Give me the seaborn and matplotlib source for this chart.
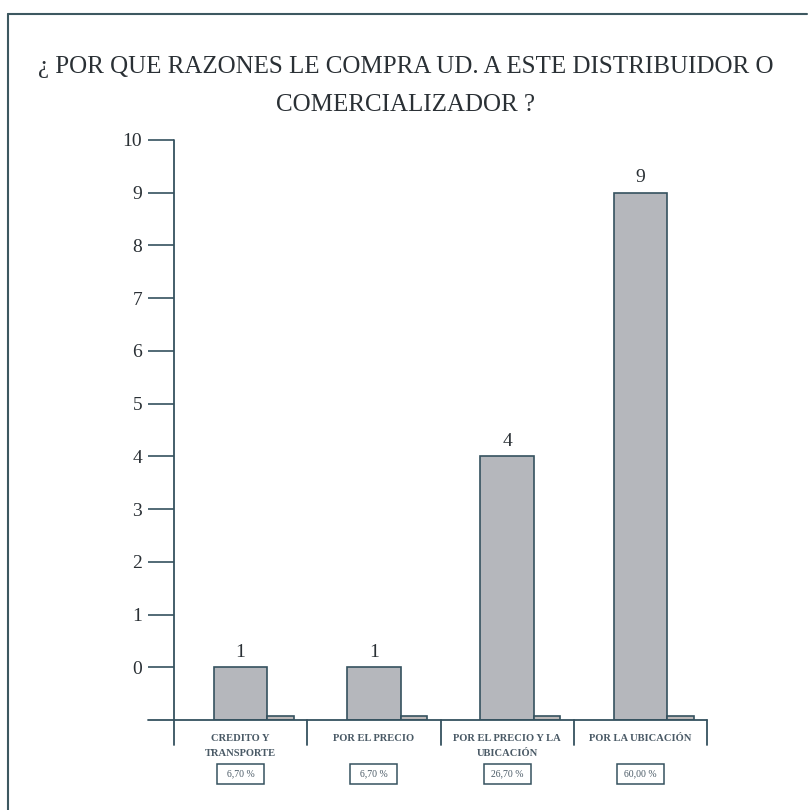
import numpy as np
import pandas as pd
import matplotlib
matplotlib.use("Agg")
import matplotlib.pyplot as plt
from matplotlib.lines import Line2D
from matplotlib.patches import Rectangle
import seaborn as sns

# datos
categorias = ["CREDITO Y\nTRANSPORTE", "POR EL PRECIO", "POR EL PRECIO Y LA\nUBICACIÓN", "POR LA UBICACIÓN"]
tope_barra = [0, 0, 4, 9]          # altura de la barra segun el eje
etiqueta_barra = ["1", "1", "4", "9"]
serie_b = [0.08, 0.08, 0.08, 0.08]  # barrita pequeña al lado
porcentajes = ["6,70 %", "6,70 %", "26,70 %", "60,00 %"]
y_ticks = list(range(0, 11))
base = -1

titulo = "¿ POR QUE RAZONES LE COMPRA UD. A ESTE DISTRIBUIDOR O\nCOMERCIALIZADOR ?"

sns.set_theme(style="white")
plt.rcParams['font.family'] = ['Liberation Serif', 'DejaVu Serif']

linea = '#35525f'
gris = '#b5b7bc'
texto = '#2a3035'
texto_cat = '#4a5a66'

df = pd.DataFrame({"cat": categorias, "alto": np.array(tope_barra) - base})

fig = plt.figure(figsize=(8.11, 8.10), dpi=100)
ax = fig.add_axes([174/811, 1 - 720/810, 533/811, 580/810])

sns.barplot(data=df, x="cat", y="alto", color=gris, saturation=1, width=0.4,
            edgecolor=linea, linewidth=1.2, ax=ax, bottom=base)

# serie pequeña a la derecha de cada barra
xpos = np.arange(len(categorias))
ax.bar(xpos + 0.3, serie_b, width=0.2, bottom=base, color='#bdb8b8',
       edgecolor=linea, linewidth=1.2)

ax.set_xlim(-0.5, 3.5)
ax.set_ylim(base, 10)
ax.set_yticks(y_ticks)
ax.set_yticklabels([str(t) for t in y_ticks], fontsize=14, color=texto)
ax.tick_params(axis='y', length=19, width=1.2, color=linea, pad=4, left=True)
ax.set_xticks([])
ax.set_xlabel("")
ax.set_ylabel("")
for s in ["top", "right", "bottom", "left"]:
    ax.spines[s].set_visible(False)

# ejes dibujados a mano como en el original
ax.axhline(base, xmin=-26/533, xmax=1, color=linea, lw=1.3, clip_on=False)
ax.axvline(-0.5, ymin=-25/580, ymax=1, color=linea, lw=1.3, clip_on=False)
for xd in [0.5, 1.5, 2.5, 3.5]:
    ax.axvline(xd, ymin=-25/580, ymax=0, color=linea, lw=1.3, clip_on=False)

# valores sobre las barras
for i, (t, lab) in enumerate(zip(tope_barra, etiqueta_barra)):
    ax.text(i, t + 0.12, lab, ha='center', va='bottom', fontsize=14, color=texto)

# etiquetas de categoria y recuadros de porcentaje
trans = ax.get_xaxis_transform()
caja_w = 47 / 133.25
caja_h = 20 / 580
for i, (c, p) in enumerate(zip(categorias, porcentajes)):
    ax.text(i, -0.024, c, transform=trans, ha='center', va='top', fontsize=7.6,
            fontweight='bold', color=texto_cat, linespacing=1.8)
    ax.add_patch(Rectangle((i - caja_w / 2, -0.093 - caja_h / 2), caja_w, caja_h,
                           transform=trans, fc='white', ec=linea, lw=1.1, clip_on=False))
    ax.text(i, -0.093, p, transform=trans, ha='center', va='center', fontsize=7,
            color=texto_cat)

fig.text(0.5, 1 - 86/810, titulo, ha='center', va='center', fontsize=18,
         color=texto, linespacing=1.9)

# marco del recuadro
fig.add_artist(Line2D([8/811, 807/811], [1 - 14/810, 1 - 14/810], color='#3d5860', lw=1.5))
fig.add_artist(Line2D([8/811, 8/811], [0, 1 - 14/810], color='#3d5860', lw=1.5))

fig.savefig("out.png", dpi=100)
